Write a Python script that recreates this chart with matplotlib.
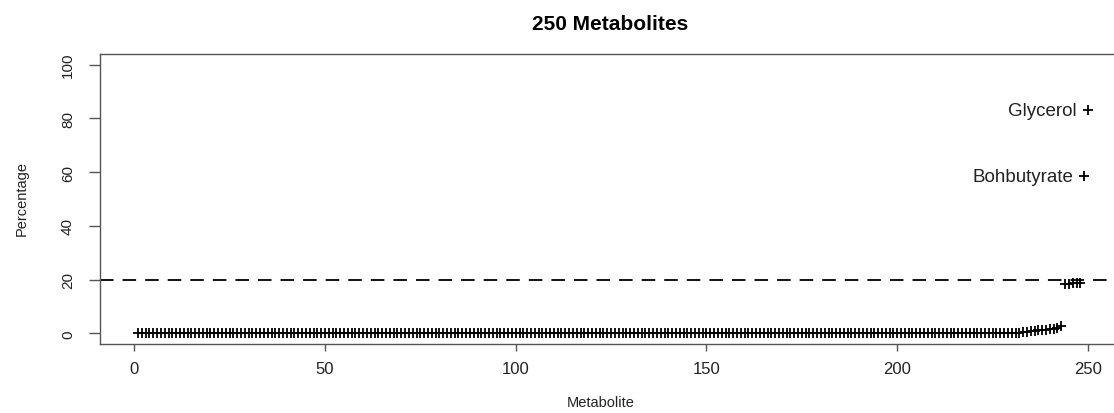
import matplotlib
matplotlib.use("Agg")
import matplotlib.pyplot as plt

plt.rcParams['font.family'] = ['Liberation Sans', 'DejaVu Sans']

# percentage per metabolite, sorted ascending (index 1..250)
n_metabolites = 250
flat_values = [0.0] * 231
rising_values = [0.2, 0.3, 0.5, 0.7, 0.9, 1.1, 1.3, 1.4, 1.5, 1.6, 1.8, 2.8]
high_values = [18.4, 18.5, 18.6, 18.7, 18.8]
labelled_names = ["Bohbutyrate", "Glycerol"]
labelled_values = [58.4, 83.0]

values = flat_values + rising_values + high_values + labelled_values
index = list(range(1, len(values) + 1))
threshold = 20

xticks = [0, 50, 100, 150, 200, 250]
yticks = [0, 20, 40, 60, 80, 100]

fig = plt.figure(figsize=(11.14, 4.14), dpi=100)
ax = fig.add_axes([100/1114, 69/414, 1026/1114, 290/414])

ax.plot(index, values, linestyle='none', marker='+', color='black',
        markersize=7, markeredgewidth=1.3)
ax.axhline(threshold, color='black', linewidth=1.3, linestyle=(0, (7.5, 5)))

# labels for the two outliers (last two points)
for xi, yi, name in zip(index[-2:], values[-2:], labelled_names):
    ax.annotate(name, (xi, yi), xytext=(-8, 0), textcoords='offset points',
                ha='right', va='center', fontsize=13.5, color='#222222')

ax.set_xlim(-8.96, 259.96)
ax.set_ylim(-4, 104)
ax.set_xticks(xticks)
ax.set_yticks(yticks)
ax.tick_params(axis='x', length=5, width=1, color='#555555', labelsize=12,
               pad=7, labelcolor='#222222')
ax.tick_params(axis='y', length=8, width=1, color='#555555', labelsize=11,
               pad=10, labelcolor='#222222')
for lab in ax.get_yticklabels():
    lab.set_rotation(90)
    lab.set_va('center')

for s in ax.spines.values():
    s.set_color('#555555')
    s.set_linewidth(1.0)

ax.set_title("%d Metabolites" % n_metabolites, fontsize=15,
             fontweight='bold', pad=18, x=0.497)
ax.set_xlabel("Metabolite", fontsize=10.5, color='#222222')
ax.xaxis.set_label_coords(0.488, -0.2)
ax.get_xaxis().label.set_va('center')
ax.set_ylabel("Percentage", fontsize=10.5, color='#222222')
ax.yaxis.set_label_coords(-0.076, 0.505)
ax.get_yaxis().label.set_va('center')

fig.savefig("out.png", dpi=100)
